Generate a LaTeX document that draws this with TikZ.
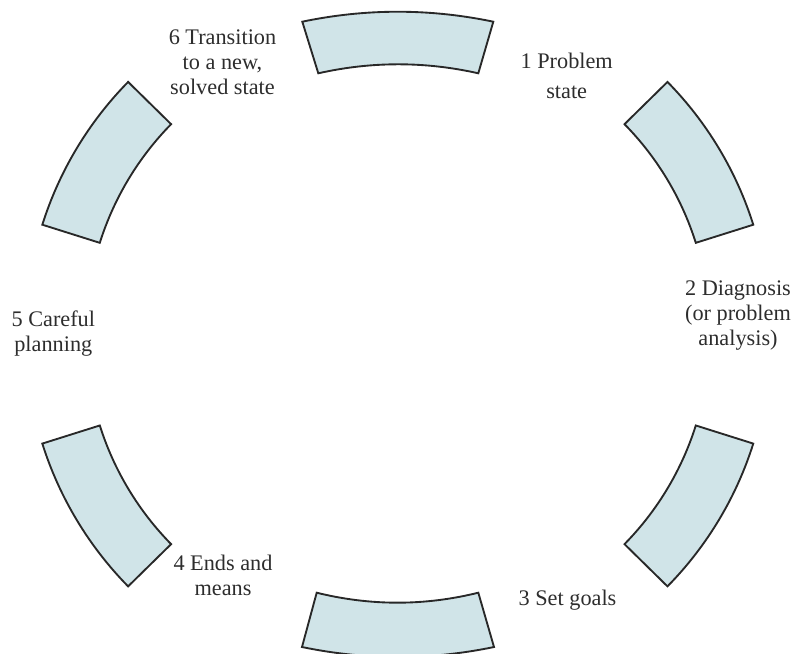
\documentclass[tikz,border=0pt]{standalone}
\usepackage{fontspec}
\setmainfont{Liberation Serif}
\definecolor{segfill}{RGB}{208,228,232}
\definecolor{segline}{RGB}{40,40,40}
\definecolor{txt}{RGB}{45,45,45}
\begin{document}
\begin{tikzpicture}[x=0.75pt,y=0.75pt,
  seg/.style={fill=segfill,draw=segline,line width=1.4pt,line join=miter},
  lbl/.style={font=\fontsize{16.7}{18.75}\selectfont,text=txt,align=center,inner sep=0pt}]
\useasboundingbox (0,0) rectangle (792,-653);
\begin{scope}
\clip (0,0) rectangle (792,-653);
% top segment
\draw[seg] (302.3,-21.7) .. controls (366,-8.4) and (429.6,-8.4) .. (493.3,-21.7)
  -- (478.3,-73.3) .. controls (425,-61.3) and (371.6,-61.3) .. (318.3,-73.3) -- cycle;
% bottom segment
\draw[seg] (316.7,-592.7) .. controls (370.6,-606) and (424.4,-606) .. (478.3,-592.7)
  -- (494,-647) .. controls (430,-660.3) and (366,-660.3) .. (302,-647) -- cycle;
% right top
\draw[seg] ([shift={(17.5:267.6pt)}]413,-332) arc[start angle=17.5,end angle=44.5,radius=267.6pt]
  -- ([shift={(44.5:222.4pt)}]413,-332) arc[start angle=44.5,end angle=17.5,radius=222.4pt] -- cycle;
% right bottom
\draw[seg] ([shift={(-17.5:267.6pt)}]413,-336.3) arc[start angle=-17.5,end angle=-44.5,radius=267.6pt]
  -- ([shift={(-44.5:222.4pt)}]413,-336.3) arc[start angle=-44.5,end angle=-17.5,radius=222.4pt] -- cycle;
% left top
\draw[seg] ([shift={(162.5:267.6pt)}]382.6,-332) arc[start angle=162.5,end angle=135.5,radius=267.6pt]
  -- ([shift={(135.5:222.4pt)}]382.6,-332) arc[start angle=135.5,end angle=162.5,radius=222.4pt] -- cycle;
% left bottom
\draw[seg] ([shift={(197.5:267.6pt)}]382.6,-336.3) arc[start angle=197.5,end angle=224.5,radius=267.6pt]
  -- ([shift={(224.5:222.4pt)}]382.6,-336.3) arc[start angle=224.5,end angle=197.5,radius=222.4pt] -- cycle;
\end{scope}
\node[lbl] (l6) at (222.5,-62) {6 Transition\\to a new,\\solved state};
\node[lbl] (l1) at (566.7,-76) {1 Problem\\[3.75pt]state};
\node[lbl] (l2) at (738,-316) {2 Diagnosis\\(or problem\\analysis)};
\node[lbl] (l5) at (53.3,-334) {5 Careful\\planning};
\node[lbl] (l4) at (223,-575) {4 Ends and\\means};
\node[lbl] (l3) at (567.5,-600) {3 Set goals};
\end{tikzpicture}
\end{document}
